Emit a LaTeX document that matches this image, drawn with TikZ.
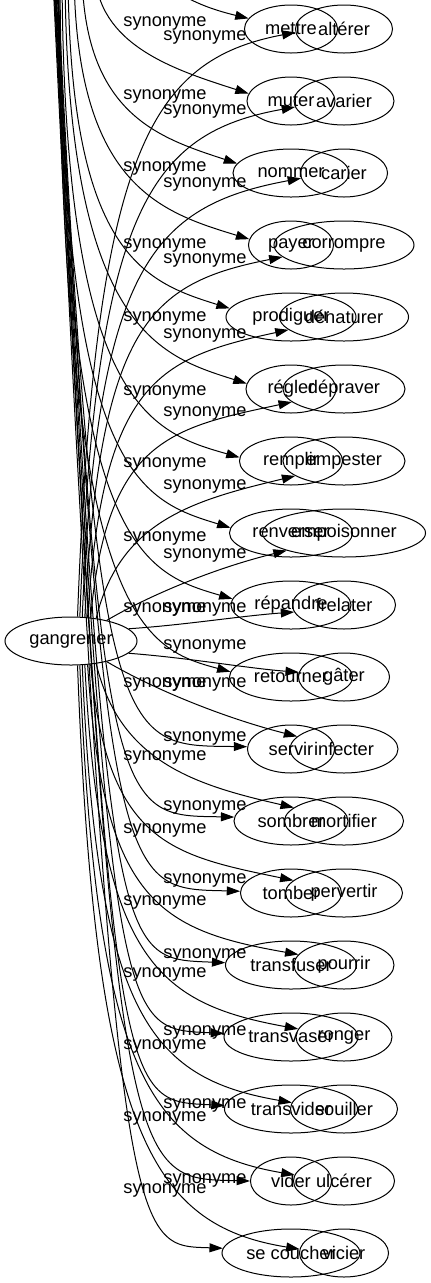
\documentclass[tikz,border=0pt]{standalone}
\usepackage{fontspec}
\setmainfont{Liberation Sans}
\usetikzlibrary{arrows.meta,shapes.geometric}
\begin{document}
\begin{tikzpicture}[x=0.75pt, y=-0.75pt,
  word/.style={draw, ellipse, line width=0.75pt, inner sep=0pt, minimum height=36pt, font=\fontsize{13.7pt}{16pt}\selectfont},
  syn/.style={inner sep=0pt, font=\fontsize{13.7pt}{16pt}\selectfont},
  rel/.style={-{Triangle[length=10pt, width=6.7pt]}, line width=0.75pt}]
\useasboundingbox (0,0) rectangle (430,1283);
\clip (0,0) rectangle (430,1283);
\node[word, minimum width=99pt] (gangrener) at (71,641) {gangrener};
\node[word, minimum width=69.8pt] (mettre) at (291,29) {mettre};
\node[word, minimum width=66pt] (muter) at (291,101) {muter};
\node[word, minimum width=87pt] (nommer) at (291,173) {nommer};
\node[word, minimum width=63.8pt] (payer) at (291,245) {payer};
\node[word, minimum width=97.5pt] (prodiguer) at (291,317) {prodiguer};
\node[word, minimum width=67.5pt] (regler) at (291,389) {régler};
\node[word, minimum width=77.3pt] (remplir) at (291,461) {remplir};
\node[word, minimum width=92.3pt] (renverser) at (291,533) {renverser};
\node[word, minimum width=90pt] (repandre) at (291,605) {répandre};
\node[word, minimum width=92.3pt] (retourner) at (291,677) {retourner};
\node[word, minimum width=65.3pt] (servir) at (291,749) {servir};
\node[word, minimum width=85.5pt] (sombrer) at (291,821) {sombrer};
\node[word, minimum width=75.8pt] (tomber) at (291,893) {tomber};
\node[word, minimum width=98.3pt] (transfuser) at (291,965) {transfuser};
\node[word, minimum width=100.5pt] (transvaser) at (291,1037) {transvaser};
\node[word, minimum width=99.8pt] (transvider) at (291,1109) {transvider};
\node[word, minimum width=60.8pt] (vider) at (291,1181) {vider};
\node[word, minimum width=103.5pt] (secoucher) at (291,1253) {se coucher};
\node[word, minimum width=72.8pt] (alterer) at (344,29) {altérer};
\node[word, minimum width=75pt] (avarier) at (344,101) {avarier};
\node[word, minimum width=65.3pt] (carier) at (344,173) {carier};
\node[word, minimum width=105pt] (corrompre) at (344,245) {corrompre};
\node[word, minimum width=96.8pt] (denaturer) at (344,317) {dénaturer};
\node[word, minimum width=91.5pt] (depraver) at (344,389) {dépraver};
\node[word, minimum width=91.5pt] (empester) at (344,461) {empester};
\node[word, minimum width=122.3pt] (empoisonner) at (344,533) {empoisonner};
\node[word, minimum width=77.3pt] (frelater) at (344,605) {frelater};
\node[word, minimum width=68.3pt] (gater) at (344,677) {gâter};
\node[word, minimum width=81pt] (infecter) at (344,749) {infecter};
\node[word, minimum width=89.3pt] (mortifier) at (344,821) {mortifier};
\node[word, minimum width=87.8pt] (pervertir) at (344,893) {pervertir};
\node[word, minimum width=75pt] (pourrir) at (344,965) {pourrir};
\node[word, minimum width=72pt] (ronger) at (344,1037) {ronger};
\node[word, minimum width=80.3pt] (souiller) at (344,1109) {souiller};
\node[word, minimum width=75.8pt] (ulcerer) at (344,1181) {ulcérer};
\node[word, minimum width=66.8pt] (vicier) at (344,1253) {vicier};
\node[syn] (syn1a) at (165,23) {synonyme};
\node[syn] (syn1b) at (205,37) {synonyme};
\node[syn] (syn2a) at (165,96) {synonyme};
\node[syn] (syn2b) at (205,111) {synonyme};
\node[syn] (syn3a) at (165,168) {synonyme};
\node[syn] (syn3b) at (205,184) {synonyme};
\node[syn] (syn4a) at (165,245) {synonyme};
\node[syn] (syn4b) at (205,260) {synonyme};
\node[syn] (syn5a) at (165,318) {synonyme};
\node[syn] (syn5b) at (205,335) {synonyme};
\node[syn] (syn6a) at (165,392) {synonyme};
\node[syn] (syn6b) at (205,413) {synonyme};
\node[syn] (syn7a) at (165,464) {synonyme};
\node[syn] (syn7b) at (205,486) {synonyme};
\node[syn] (syn8a) at (165,538) {synonyme};
\node[syn] (syn8b) at (205,555) {synonyme};
\node[syn] (syn9a) at (165,609) {synonyme};
\node[syn] (syn9b) at (205,609) {synonyme};
\node[syn] (synmid) at (205,646) {synonyme};
\node[syn] (syn10a) at (165,684) {synonyme};
\node[syn] (syn10b) at (205,684) {synonyme};
\node[syn] (syn11b) at (205,738) {synonyme};
\node[syn] (syn11a) at (165,757) {synonyme};
\node[syn] (syn12b) at (205,807) {synonyme};
\node[syn] (syn12a) at (165,830) {synonyme};
\node[syn] (syn13b) at (205,880) {synonyme};
\node[syn] (syn13a) at (165,902) {synonyme};
\node[syn] (syn14b) at (205,955) {synonyme};
\node[syn] (syn14a) at (165,974) {synonyme};
\node[syn] (syn15b) at (205,1032) {synonyme};
\node[syn] (syn15a) at (165,1046) {synonyme};
\node[syn] (syn16b) at (205,1105) {synonyme};
\node[syn] (syn16a) at (165,1118) {synonyme};
\node[syn] (syn17b) at (205,1180) {synonyme};
\node[syn] (syn17a) at (165,1190) {synonyme};
\coordinate (up1) at (140,-40);
\coordinate (up2) at (95,-30);
\coordinate (up3) at (82,-30);
\coordinate (up4) at (74,-30);
\coordinate (up5) at (68,-30);
\coordinate (up6) at (65,-30);
\coordinate (up7) at (62,-30);
\coordinate (up8) at (60,-30);
\coordinate (up9) at (59,-30);
\coordinate (up10) at (58,-30);
\coordinate (up11) at (57,-30);
\coordinate (up12) at (56,-30);
\coordinate (up13) at (55,-30);
\coordinate (up14) at (54.5,-30);
\coordinate (up15) at (54,-30);
\coordinate (up16) at (53.5,-30);
\coordinate (up17) at (53,-30);
\coordinate (up18) at (52.5,-30);
\draw[rel] (up1) .. controls (170,-5) and (205,8) .. (mettre.166);
\draw[rel] (up2) .. controls (96,45) and (175,70) .. (muter.170);
\draw[rel] (up3) .. controls (83,115) and (160,138) .. (nommer.170);
\draw[rel] (up4) .. controls (75,185) and (160,212) .. (payer.172);
\draw[rel] (up5) .. controls (69,255) and (145,282) .. (prodiguer.172);
\draw[rel] (up6) .. controls (66,330) and (160,356) .. (regler.173);
\draw[rel] (up7) .. controls (63,405) and (150,432) .. (remplir.176);
\draw[rel] (up8) .. controls (61,475) and (140,500) .. (renverser.175);
\draw[rel] (up9) .. controls (60,545) and (140,572) .. (repandre.174);
\draw[rel] (up10) .. controls (62,615) and (140,648) .. (retourner.175);
\draw[rel] (up11) .. controls (95,760) and (120,745) .. (servir.177);
\draw[rel] (up12) .. controls (100,830) and (115,815) .. (sombrer.176);
\draw[rel] (up13) .. controls (105,905) and (120,888) .. (tomber.178);
\draw[rel] (up14) .. controls (108,975) and (115,958) .. (transfuser.178);
\draw[rel] (up15) .. controls (110,1048) and (118,1028) .. (transvaser.177);
\draw[rel] (up16) .. controls (112,1120) and (118,1100) .. (transvider.177);
\draw[rel] (up17) .. controls (115,1195) and (125,1178) .. (vider.180);
\draw[rel] (up18) .. controls (115,1265) and (130,1245) .. (secoucher.176);
\draw[rel] (gangrener.75) .. controls (95,151) and (150,60) .. (alterer.184);
\draw[rel] (gangrener.70) .. controls (96,209) and (150,133) .. (avarier.187);
\draw[rel] (gangrener.65) .. controls (97,267) and (152,206) .. (carier.187);
\draw[rel] (gangrener.60) .. controls (100,324) and (150,283) .. (corrompre.191);
\draw[rel] (gangrener.55) .. controls (103,382) and (158,358) .. (denaturer.193);
\draw[rel] (gangrener.50) .. controls (107,440) and (170,428) .. (depraver.194);
\draw[rel] (gangrener.42) .. controls (120,520) and (195,500) .. (empester.197);
\draw[rel] (gangrener.30) .. controls (150,595) and (215,568) .. (empoisonner.197);
\draw[rel] (gangrener.12) .. controls (185,625) and (240,616) .. (frelater.188);
\draw[rel] (gangrener.-12) .. controls (190,658) and (245,668) .. (gater.174);
\draw[rel] (gangrener.-30) .. controls (155,690) and (225,718) .. (infecter.165);
\draw[rel] (gangrener.-42) .. controls (120,762) and (195,785) .. (mortifier.165);
\draw[rel] (gangrener.-50) .. controls (107,842) and (170,855) .. (pervertir.166);
\draw[rel] (gangrener.-55) .. controls (103,900) and (158,930) .. (pourrir.167);
\draw[rel] (gangrener.-60) .. controls (100,958) and (155,1003) .. (ronger.170);
\draw[rel] (gangrener.-65) .. controls (97,1015) and (150,1078) .. (souiller.173);
\draw[rel] (gangrener.-70) .. controls (96,1073) and (150,1150) .. (ulcerer.173);
\draw[rel] (gangrener.-75) .. controls (95,1131) and (150,1225) .. (vicier.175);
\end{tikzpicture}
\end{document}
